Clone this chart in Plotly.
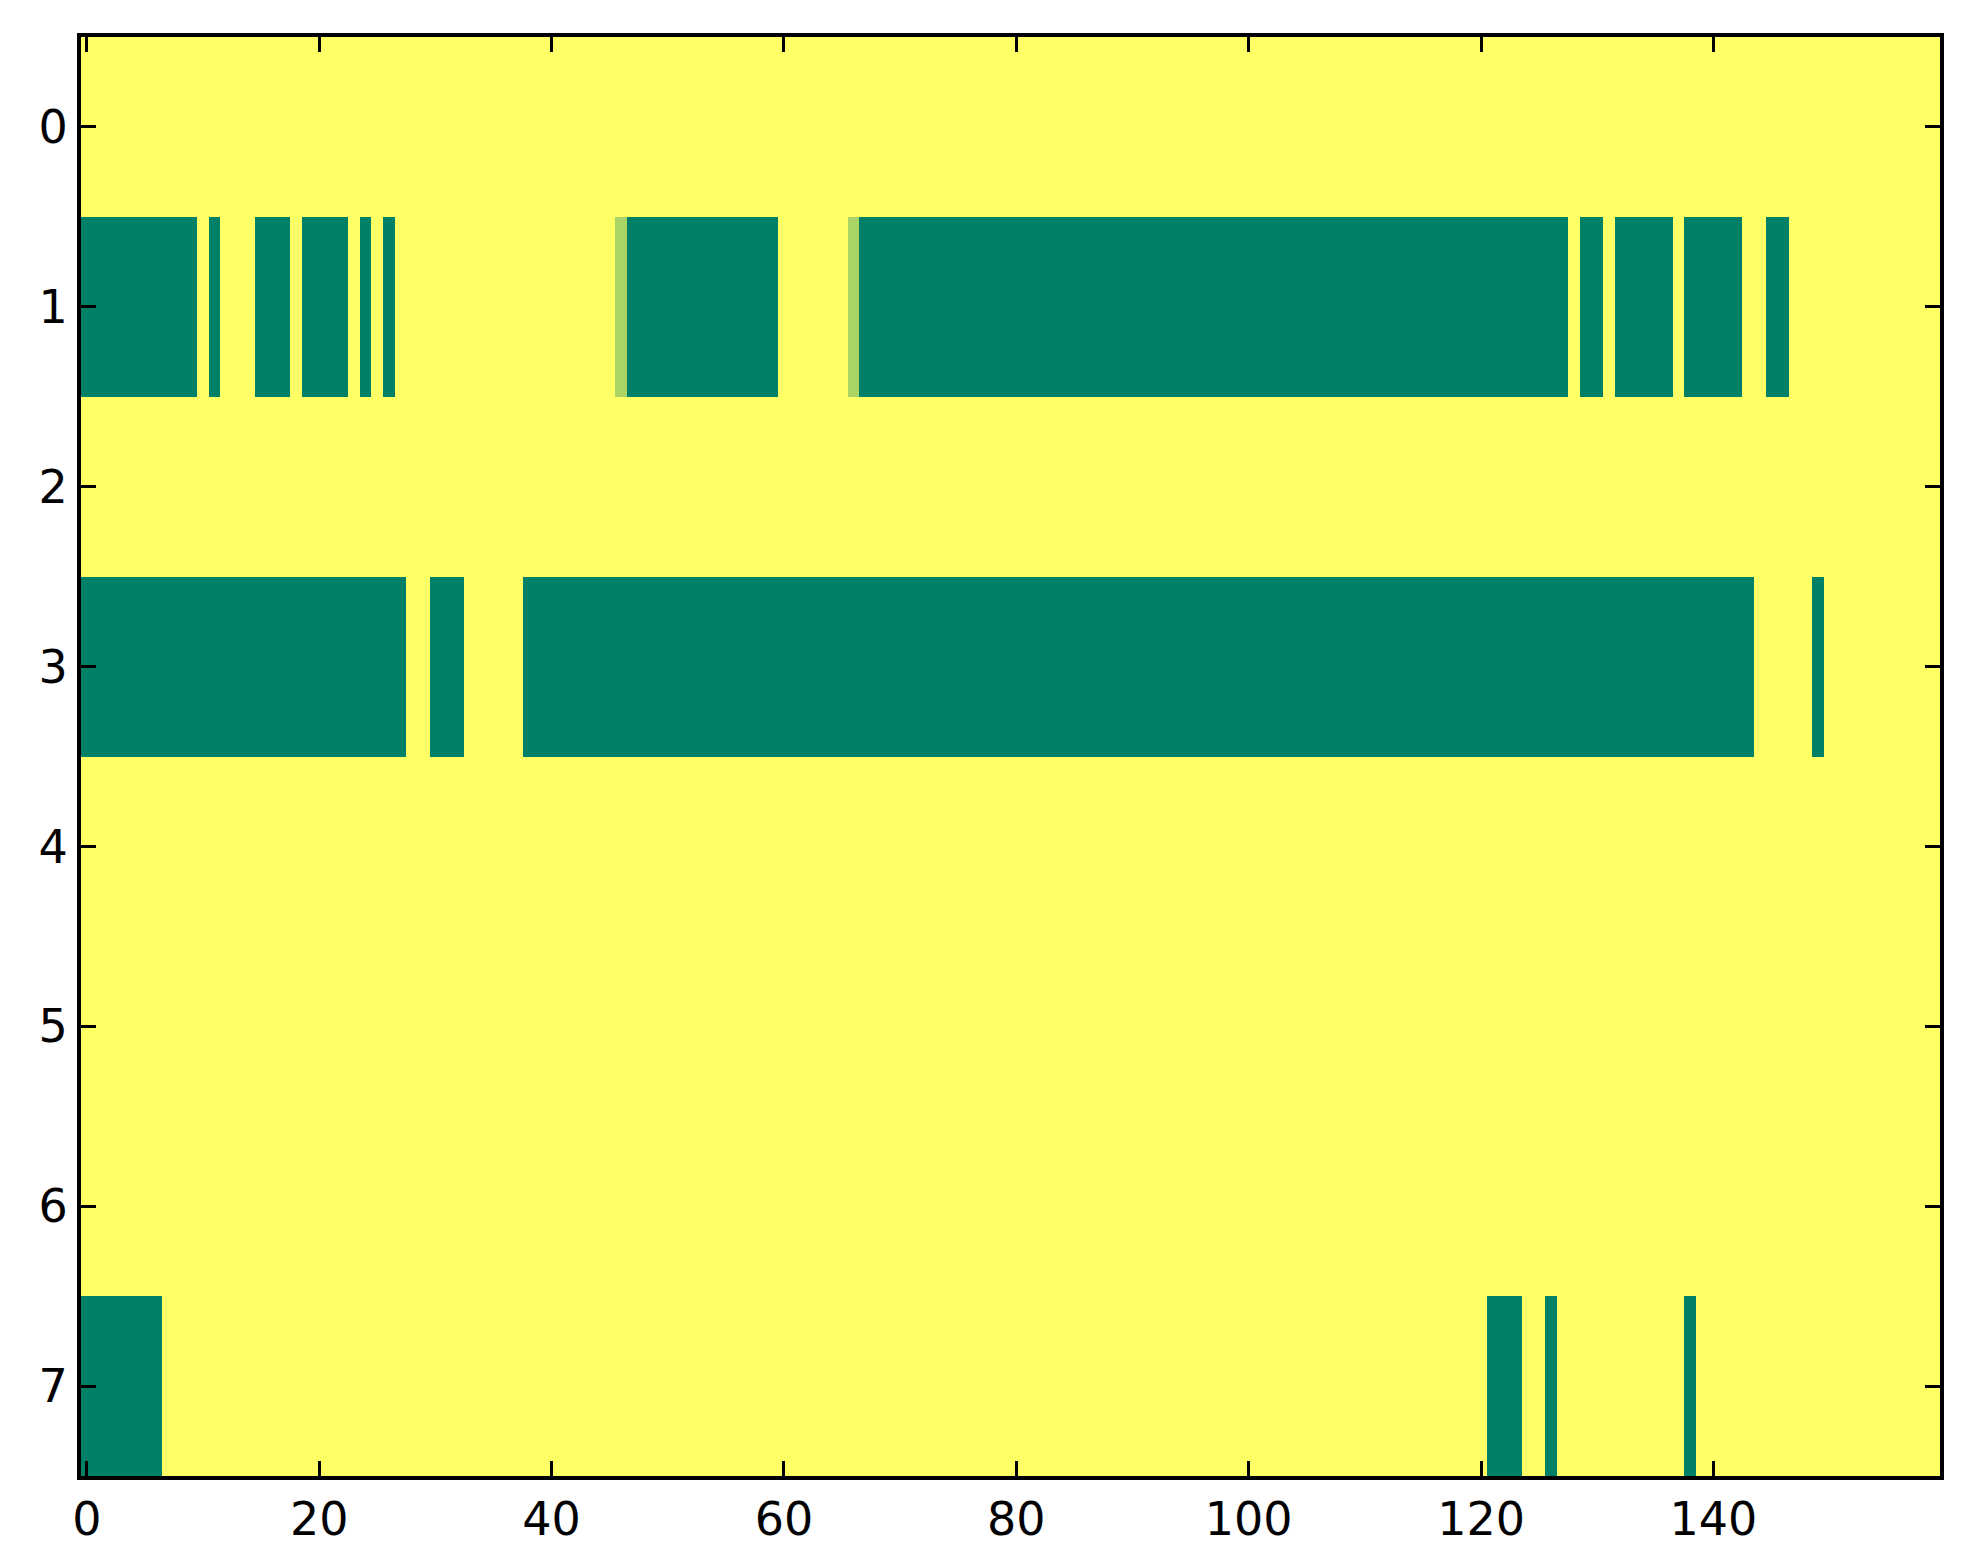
import plotly.graph_objects as go

n_cols = 160
n_rows = 8
x_ticks = [0, 20, 40, 60, 80, 100, 120, 140]
y_ticks = [0, 1, 2, 3, 4, 5, 6, 7]

# runs of (start_col, end_col_inclusive, value); default cell value is 1.0
row0_runs = []
row1_runs = [(0, 9, 0.0), (11, 11, 0.0), (15, 17, 0.0), (19, 22, 0.0), (24, 24, 0.0),
             (26, 26, 0.0), (46, 46, 0.667), (47, 59, 0.0), (66, 66, 0.667),
             (67, 127, 0.0), (129, 130, 0.0), (132, 136, 0.0), (138, 142, 0.0),
             (145, 146, 0.0)]
row2_runs = []
row3_runs = [(0, 27, 0.0), (30, 32, 0.0), (38, 143, 0.0), (149, 149, 0.0)]
row4_runs = []
row5_runs = []
row6_runs = []
row7_runs = [(0, 6, 0.0), (121, 123, 0.0), (126, 126, 0.0), (138, 138, 0.0)]

all_runs = [row0_runs, row1_runs, row2_runs, row3_runs,
            row4_runs, row5_runs, row6_runs, row7_runs]

z = []
for runs in all_runs:
    row = [1.0] * n_cols
    for s, e, v in runs:
        for c in range(s, e + 1):
            row[c] = v
    z.append(row)

summer = [[0.0, "rgb(0,128,102)"], [1.0, "rgb(255,255,102)"]]

fig = go.Figure(go.Heatmap(
    z=z,
    x=list(range(n_cols)),
    y=list(range(n_rows)),
    colorscale=summer,
    zmin=0, zmax=1,
    showscale=False,
    hoverinfo="skip",
))

axis_common = dict(
    showline=True, linecolor="black", linewidth=4, mirror="ticks",
    ticks="inside", ticklen=15, tickwidth=2.5, tickcolor="black",
    showgrid=False, zeroline=False,
    tickfont=dict(family="DejaVu Sans", size=46, color="black"),
)

fig.update_xaxes(range=[-0.5, 159.5], tickvals=x_ticks, **axis_common)
fig.update_yaxes(range=[7.5, -0.5], tickvals=y_ticks, **axis_common)

fig.update_layout(
    width=1963, height=1564,
    margin=dict(l=73, r=31, t=29, b=96),
    paper_bgcolor="white", plot_bgcolor="white",
)

fig.write_html("out.html")
